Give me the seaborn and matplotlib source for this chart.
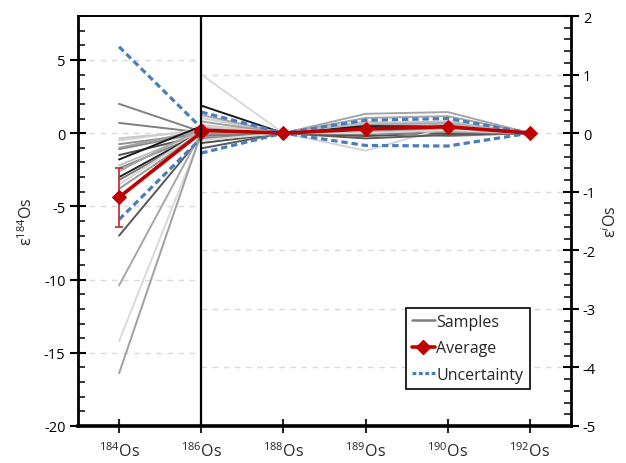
import matplotlib
matplotlib.use("Agg")
import numpy as np
import pandas as pd
import matplotlib.pyplot as plt
from matplotlib.lines import Line2D
from matplotlib.ticker import MultipleLocator, FixedLocator
import seaborn as sns

# ---- data -------------------------------------------------------------
isotopes = ["184Os", "186Os", "188Os", "189Os", "190Os", "192Os"]
tick_labels = [r"$^{184}$Os", r"$^{186}$Os", r"$^{188}$Os",
               r"$^{189}$Os", r"$^{190}$Os", r"$^{192}$Os"]

sample_ids = ["S%02d" % k for k in range(1, 22)]
# epsilon-184 (left scale); the last sample has no 184Os measurement
e184 = [2.0, 0.7, -0.35, -0.5, -0.75, -1.0, -1.1, -1.5, -1.8, -2.2, -2.4,
        -2.6, -3.0, -3.2, -3.5, -3.8, -7.0, -10.4, -14.2, -16.4, np.nan]
# epsilon-i (right scale)
e186 = [0.10, 0.05, 0.14, 0.26, -0.03, 0.20, 0.02, -0.17, 0.47, 0.08, -0.09,
        0.31, 0.05, -0.05, 0.12, 0.00, -0.26, 0.03, -0.12, 0.00, 1.00]
e188 = [0.0, 0.0, 0.0, 0.0, 0.0, 0.0, 0.0, 0.0, 0.0, 0.0, 0.0,
        0.0, 0.0, 0.0, 0.0, 0.0, 0.0, 0.0, 0.0, 0.0, 0.0]
e189 = [0.05, 0.12, 0.20, 0.10, 0.00, 0.15, 0.08, -0.05, 0.12, 0.17, 0.02,
        0.26, 0.10, -0.02, -0.30, 0.05, -0.09, 0.33, 0.04, 0.07, 0.00]
e190 = [0.08, 0.15, 0.12, 0.05, 0.06, 0.18, 0.02, 0.00, 0.10, 0.20, -0.05,
        0.29, 0.12, 0.04, 0.10, 0.08, -0.03, 0.36, 0.14, 0.02, 0.05]
e192 = [0.0, 0.0, 0.0, 0.0, 0.0, 0.0, 0.0, 0.0, 0.0, 0.0, 0.0,
        0.0, 0.0, 0.0, 0.0, 0.0, 0.0, 0.0, 0.0, 0.0, 0.0]
sample_colors = ["#808080", "#808080", "#c8c8c8", "#d0d0d0", "#909090",
                 "#a0a0a0", "#8c8c8c", "#505050", "#1a1a1a", "#c0c0c0",
                 "#8a8a8a", "#a6a6a6", "#262626", "#7a7a7a", "#d4d4d4",
                 "#999999", "#595959", "#a6a6a6", "#d9d9d9", "#a0a0a0",
                 "#d9d9d9"]

average = [-4.38, 0.05, 0.0, 0.07, 0.11, 0.0]
average_err_184 = 2.0
uncertainty_upper = [5.9, 0.36, 0.0, 0.22, 0.25, 0.0]
uncertainty_lower = [-5.9, -0.34, 0.0, -0.21, -0.22, 0.0]

left_lim = (-20, 8)     # epsilon-184 axis
right_lim = (-5, 2)     # epsilon-i axis
scale = (left_lim[1] - left_lim[0]) / (right_lim[1] - right_lim[0])

# The 184Os -> 186Os segment of every series belongs to the left axis,
# the 186Os -> 192Os part to the right axis.  Everything is drawn on the
# right-axis data scale, so left-axis values are divided by `scale`.
pos = np.arange(len(isotopes))
left_pos = pos[:2]
right_pos = pos[1:]


def left_part(values):
    return np.array(values[:2], dtype=float) / scale


def right_part(values):
    return np.array(values[1:], dtype=float)


# ---- style ------------------------------------------------------------
sns.set_style("ticks")
FONT = "Open Sans"
plt.rcParams["font.family"] = [FONT, "DejaVu Sans"]
plt.rcParams["mathtext.fontset"] = "custom"
plt.rcParams["mathtext.rm"] = FONT
plt.rcParams["mathtext.it"] = FONT + ":italic"
plt.rcParams["mathtext.bf"] = FONT + ":bold"
plt.rcParams["axes.unicode_minus"] = False
FS = 10.5

fig = plt.figure(figsize=(6.26, 4.64), dpi=100)
ax = fig.add_axes([78 / 626, 1 - 427 / 464, (571 - 78) / 626, (427 - 17) / 464])

# long tables of all samples, one for each axis segment
columns = [e184, e186, e188, e189, e190, e192]
left_rows, right_rows = [], []
for i, sid in enumerate(sample_ids):
    vals = [col[i] for col in columns]
    for p, v in zip(left_pos, left_part(vals)):
        left_rows.append({"sample": sid, "pos": p, "value": v})
    for p, v in zip(right_pos, right_part(vals)):
        right_rows.append({"sample": sid, "pos": p, "value": v})
left_df = pd.DataFrame(left_rows)
right_df = pd.DataFrame(right_rows)

# gridlines: left block follows the left axis, right block the right axis
grid_kw = dict(color="#d9d9d9", lw=1.0, linestyles=(0, (4, 4)), zorder=0)
left_grid = np.arange(-15, 6, 5)
right_grid = np.arange(-4, 2, 1)
ax.hlines(left_grid / scale, -0.5, 1, **grid_kw)
ax.hlines(right_grid, 1, 5.5, **grid_kw)

palette = dict(zip(sample_ids, sample_colors))
for df in (left_df, right_df):
    sns.lineplot(data=df, x="pos", y="value", hue="sample",
                 units="sample", estimator=None, sort=False,
                 palette=palette, legend=False, lw=1.4, ax=ax, zorder=2)

unc_style = dict(color="#4a7ebb", lw=2.3, linestyle=(0, (2, 1.2)), zorder=3)
for series in (uncertainty_upper, uncertainty_lower):
    sns.lineplot(x=left_pos, y=left_part(series), ax=ax, **unc_style)
    sns.lineplot(x=right_pos, y=right_part(series), ax=ax, **unc_style)

avg_left = left_part(average)
ax.errorbar(left_pos[0], avg_left[0], yerr=average_err_184 / scale,
            color="#b83a3a", lw=1.3, capsize=3, capthick=1.3, zorder=4)
avg_style = dict(color="#c00000", lw=2.6, marker="D", markersize=7,
                 markeredgecolor="#c00000", zorder=5)
sns.lineplot(x=left_pos, y=avg_left, ax=ax, **avg_style)
sns.lineplot(x=right_pos, y=right_part(average), ax=ax, **avg_style)

ax.axvline(1, color="black", lw=1.6, zorder=6)

# ---- axes -------------------------------------------------------------
ax.set_xlim(-0.5, 5.5)
ax.set_ylim(*right_lim)
ax.set_xticks(pos)
ax.set_xticklabels(tick_labels, fontsize=11.5)
ax.set_xlabel("")
ax.yaxis.tick_right()
ax.yaxis.set_label_position("right")
ax.yaxis.set_major_locator(MultipleLocator(1))
ax.yaxis.set_minor_locator(MultipleLocator(0.2))
ax.tick_params(axis="y", which="major", direction="inout", length=11,
               width=1.5, labelsize=FS, pad=3, colors="black")
ax.tick_params(axis="y", which="minor", direction="in", length=5,
               width=1.3, right=True, left=False)
ax.tick_params(axis="x", which="major", direction="inout", length=10,
               width=1.5, pad=6)
ax.set_ylabel(r"ε$^{i}$Os", fontsize=FS + 1, labelpad=4)

for side, lw in (("bottom", 2.6), ("top", 1.4), ("right", 2.0)):
    ax.spines[side].set_linewidth(lw)
    ax.spines[side].set_color("black")
ax.spines["left"].set_visible(False)

sec = ax.secondary_yaxis("left", functions=(lambda v: v * scale,
                                            lambda v: v / scale))
sec.spines["left"].set_linewidth(2.0)
sec.spines["left"].set_color("black")
sec.yaxis.set_major_locator(FixedLocator(np.arange(left_lim[0], left_lim[1], 5)))
sec.yaxis.set_minor_locator(FixedLocator(np.arange(left_lim[0], left_lim[1] + 1, 1)))
sec.tick_params(which="major", direction="inout", length=12, width=1.5,
                labelsize=FS, pad=3, colors="black")
sec.tick_params(which="minor", direction="in", length=5, width=1.3)
sec.set_ylabel(r"ε$^{184}$Os", fontsize=FS + 1, labelpad=6)

handles = [
    Line2D([], [], color="#7f7f7f", lw=1.8),
    Line2D([], [], color="#c00000", lw=2.6, marker="D", markersize=7),
    Line2D([], [], color="#4a7ebb", lw=2.3, linestyle=(0, (1.2, 0.8))),
]
leg = ax.legend(handles, ["Samples", "Average", "Uncertainty"],
                loc="lower left", bbox_to_anchor=(0.665, 0.09),
                fontsize=FS + 1, frameon=True, fancybox=False,
                framealpha=1, edgecolor="black", handlelength=1.4,
                handletextpad=0.1, labelspacing=0.65, borderpad=0.4,
                borderaxespad=0)
leg.get_frame().set_linewidth(1.2)
leg.set_zorder(10)

fig.savefig("out.png", dpi=100)
